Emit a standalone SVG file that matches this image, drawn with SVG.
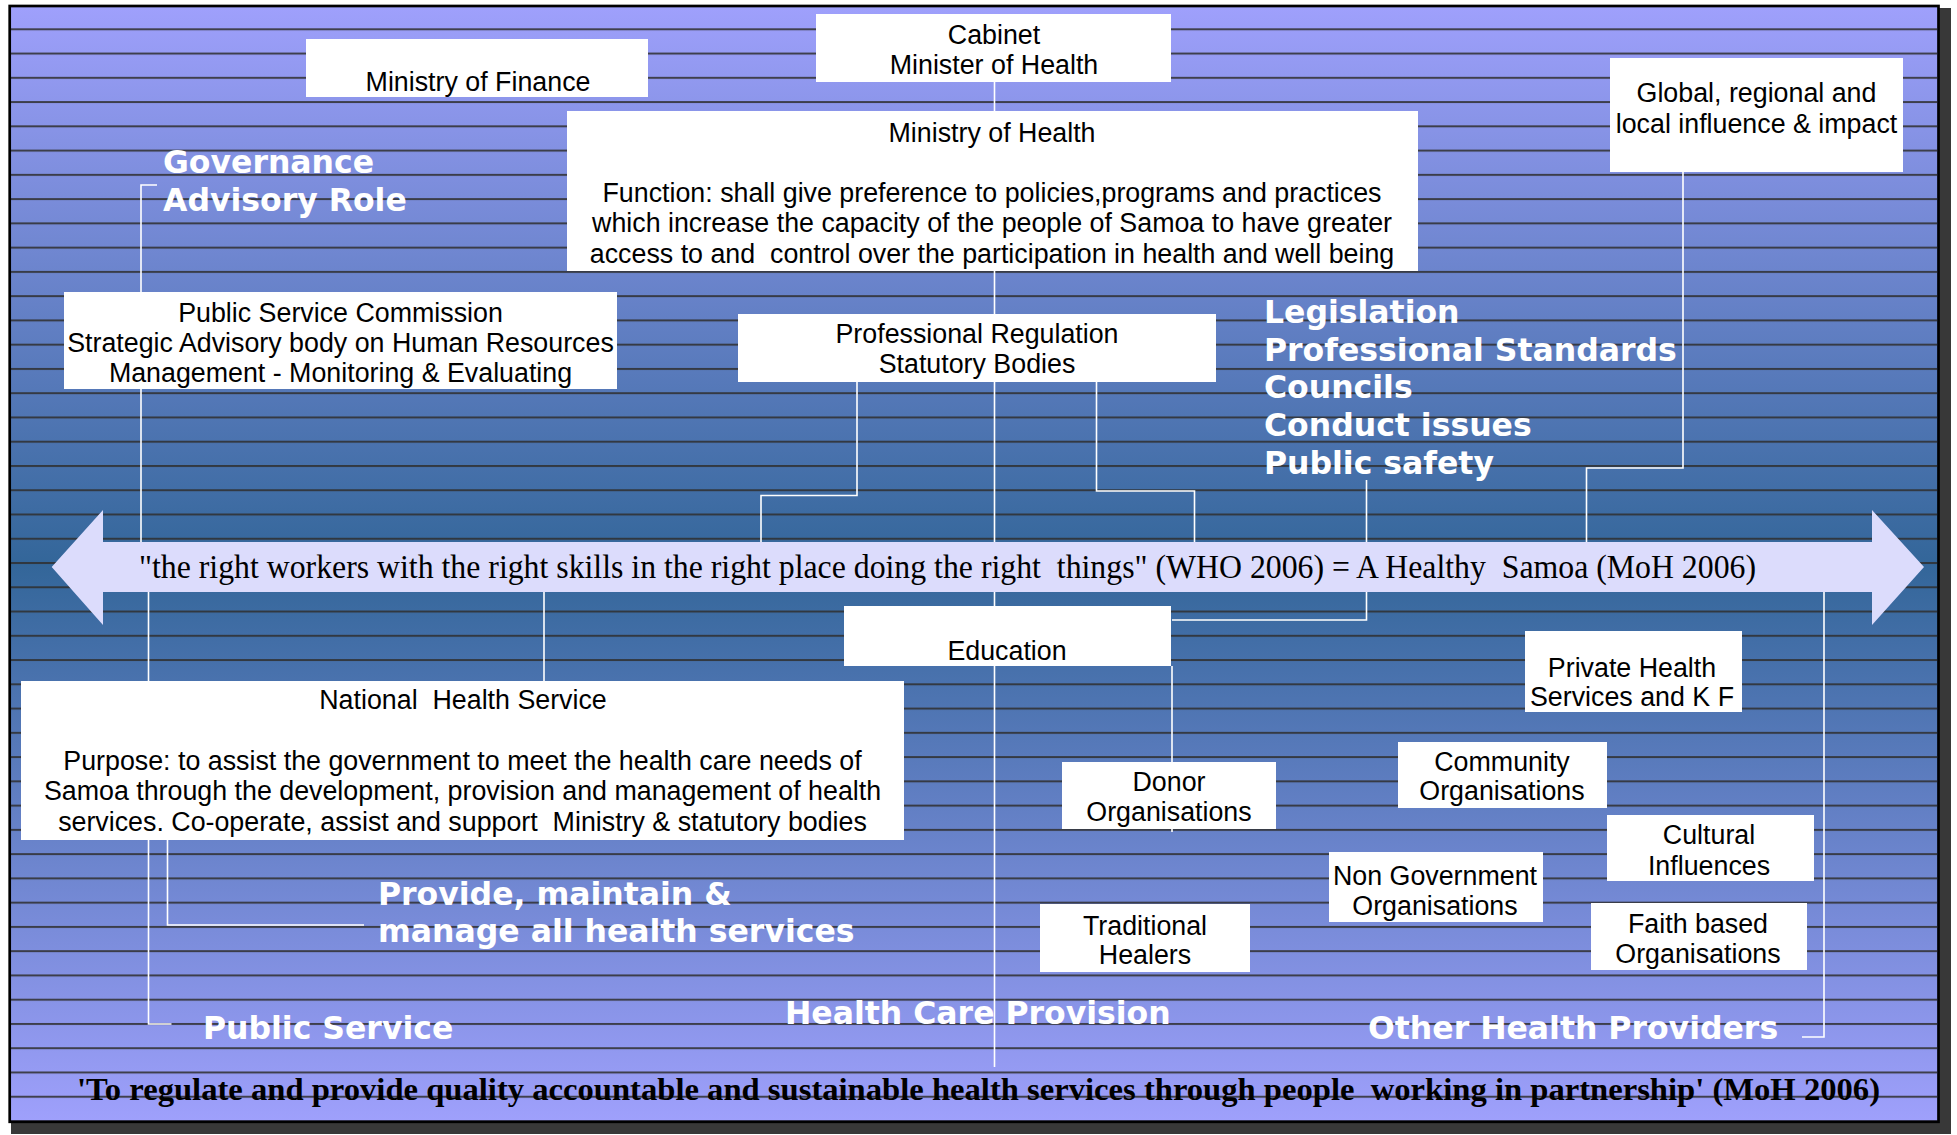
<svg xmlns="http://www.w3.org/2000/svg" width="1957" height="1135" viewBox="0 0 1957 1135">
<defs>
  <linearGradient id="bg" x1="0" y1="6" x2="0" y2="1122" gradientUnits="userSpaceOnUse">
    <stop offset="0" stop-color="#9fa0fc"/>
    <stop offset="0.5" stop-color="#336699"/>
    <stop offset="1" stop-color="#9fa0fc"/>
  </linearGradient>
  <pattern id="stripes" patternUnits="userSpaceOnUse" x="0" y="28.3" width="1957" height="24.26">
    <rect x="0" y="0" width="1957" height="2" fill="#2f2f2f" fill-opacity="0.85"/>
  </pattern>
  <style>
    .box { fill: #ffffff; }
    .bt { font-family: "Liberation Sans", Arial, sans-serif; font-size: 26.8px; fill: #000000; text-anchor: middle; }
    .wt { font-family: "DejaVu Sans", Verdana, sans-serif; font-weight: bold; font-size: 31.5px; fill: #ffffff; }
    .con { fill: none; stroke: #ffffff; stroke-width: 1.6; }
    .arrowtxt { font-family: "Liberation Serif", "Times New Roman", serif; font-size: 33px; fill: #000000; }
    .quote { font-family: "Liberation Serif", "Times New Roman", serif; font-weight: bold; font-size: 31px; fill: #000000; }
  </style>
</defs>

<!-- frame and background -->
<rect x="11" y="8" width="1940" height="1126" fill="#383838"/>
<rect x="9.7" y="6" width="1928.8" height="1115.8" fill="url(#bg)"/>
<rect x="11" y="7.5" width="1926" height="1113" fill="url(#stripes)"/>
<rect x="9.7" y="6" width="1928.8" height="1115.8" fill="none" stroke="#000000" stroke-width="2.7"/>

<g id="connectors">
  <polyline class="con" points="994.5,82 994.5,1067"/>
  <polyline class="con" points="157,185 141,185 141,542"/>
  <polyline class="con" points="148.5,592 148.5,1024 171.5,1024"/>
  <polyline class="con" points="544,592 544,681"/>
  <polyline class="con" points="167.5,840 167.5,925 364,925"/>
  <polyline class="con" points="857,382 857,495.5 761,495.5 761,542"/>
  <polyline class="con" points="1096.5,382 1096.5,491 1194.5,491 1194.5,542"/>
  <polyline class="con" points="1683,172 1683,468 1586.5,468 1586.5,542"/>
  <polyline class="con" points="1366.5,480 1366.5,620 1172,620"/>
  <polyline class="con" points="1172,666 1172,832"/>
  <polyline class="con" points="1824,592 1824,1037 1802,1037"/>
</g>

<g id="arrow">
  <polygon points="51.7,567 103,510 103,542 1872,542 1872,510 1924,567 1872,625 1872,592 103,592 103,625" fill="#dcdcfc"/>
  <text class="arrowtxt" x="139" y="578" textLength="1617" lengthAdjust="spacingAndGlyphs" xml:space="preserve">"the right workers with the right skills in the right place doing the right  things" (WHO 2006) = A Healthy  Samoa (MoH 2006)</text>
</g>

<g id="cabinet">
  <rect class="box" x="816" y="14" width="355" height="68"/>
  <text class="bt" x="994" y="44">Cabinet</text>
  <text class="bt" x="994" y="74">Minister of Health</text>
</g>

<g id="ministry-finance">
  <rect class="box" x="306" y="39" width="342" height="58"/>
  <text class="bt" x="478" y="91">Ministry of Finance</text>
</g>

<g id="ministry-health">
  <rect class="box" x="567" y="111" width="851" height="160"/>
  <text class="bt" x="992" y="142">Ministry of Health</text>
  <text class="bt" x="992" y="201.5">Function: shall give preference to policies,programs and practices</text>
  <text class="bt" x="992" y="232">which increase the capacity of the people of Samoa to have greater</text>
  <text class="bt" x="992" y="263" xml:space="preserve">access to and  control over the participation in health and well being</text>
</g>

<g id="global">
  <rect class="box" x="1610" y="58" width="293" height="114"/>
  <text class="bt" x="1756.5" y="102">Global, regional and</text>
  <text class="bt" x="1756.5" y="133">local influence &amp; impact</text>
</g>

<g id="governance">
  <text class="wt" x="163" y="173">Governance</text>
  <text class="wt" x="163" y="211">Advisory Role</text>
</g>

<g id="psc">
  <rect class="box" x="64" y="292" width="553" height="97"/>
  <text class="bt" x="340.5" y="322">Public Service Commission</text>
  <text class="bt" x="340.5" y="352">Strategic Advisory body on Human Resources</text>
  <text class="bt" x="340.5" y="382">Management - Monitoring &amp; Evaluating</text>
</g>

<g id="prof-reg">
  <rect class="box" x="738" y="314" width="478" height="68"/>
  <text class="bt" x="977" y="343">Professional Regulation</text>
  <text class="bt" x="977" y="373">Statutory Bodies</text>
</g>

<g id="legislation">
  <text class="wt" x="1264" y="323">Legislation</text>
  <text class="wt" x="1264" y="360.7">Professional Standards</text>
  <text class="wt" x="1264" y="398.4">Councils</text>
  <text class="wt" x="1264" y="436">Conduct issues</text>
  <text class="wt" x="1264" y="473.7">Public safety</text>
</g>

<g id="education">
  <rect class="box" x="844" y="606" width="327" height="60"/>
  <text class="bt" x="1007" y="660">Education</text>
</g>

<g id="nhs">
  <rect class="box" x="21" y="681" width="883" height="159"/>
  <text class="bt" x="463" y="708.5" xml:space="preserve">National  Health Service</text>
  <text class="bt" x="462.5" y="770">Purpose: to assist the government to meet the health care needs of</text>
  <text class="bt" x="462.5" y="800">Samoa through the development, provision and management of health</text>
  <text class="bt" x="462.5" y="831" xml:space="preserve">services. Co-operate, assist and support  Ministry &amp; statutory bodies</text>
</g>

<g id="provide">
  <text class="wt" x="378" y="905">Provide, maintain &amp;</text>
  <text class="wt" x="378" y="942">manage all health services</text>
</g>

<g id="public-service">
  <text class="wt" x="203" y="1039">Public Service</text>
</g>

<g id="health-care-provision">
  <text class="wt" x="785" y="1024">Health Care Provision</text>
</g>

<g id="other-providers">
  <text class="wt" x="1368" y="1039">Other Health Providers</text>
</g>

<g id="private-health">
  <rect class="box" x="1525" y="631" width="217" height="81"/>
  <text class="bt" x="1632" y="677">Private Health</text>
  <text class="bt" x="1632" y="706">Services and K F</text>
</g>

<g id="community">
  <rect class="box" x="1398" y="742" width="209" height="66"/>
  <text class="bt" x="1502" y="771">Community</text>
  <text class="bt" x="1502" y="800">Organisations</text>
</g>

<g id="cultural">
  <rect class="box" x="1607" y="815" width="207" height="66"/>
  <text class="bt" x="1709" y="844">Cultural</text>
  <text class="bt" x="1709" y="874.5">Influences</text>
</g>

<g id="donor">
  <rect class="box" x="1062" y="762" width="214" height="67"/>
  <text class="bt" x="1169" y="791">Donor</text>
  <text class="bt" x="1169" y="821">Organisations</text>
</g>

<g id="ngo">
  <rect class="box" x="1329" y="852" width="214" height="70"/>
  <text class="bt" x="1435" y="885">Non Government</text>
  <text class="bt" x="1435" y="915">Organisations</text>
</g>

<g id="traditional">
  <rect class="box" x="1040" y="904" width="210" height="68"/>
  <text class="bt" x="1145" y="935">Traditional</text>
  <text class="bt" x="1145" y="964">Healers</text>
</g>

<g id="faith">
  <rect class="box" x="1591" y="903" width="216" height="67"/>
  <text class="bt" x="1698" y="933">Faith based</text>
  <text class="bt" x="1698" y="963">Organisations</text>
</g>

<g id="bottom-quote">
  <text class="quote" x="77" y="1100" textLength="1803" lengthAdjust="spacingAndGlyphs" xml:space="preserve">'To regulate and provide quality accountable and sustainable health services through people  working in partnership' (MoH 2006)</text>
</g>
</svg>
